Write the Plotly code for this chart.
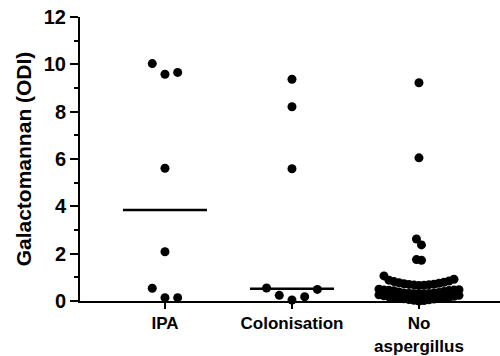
import numpy as np
import plotly.graph_objects as go

# ---------------- data ----------------
categories = ["IPA", "Colonisation", "No aspergillus"]
tick_labels = ["IPA", "Colonisation", "No<br>aspergillus"]

ipa_values = [0.14, 0.14, 0.54, 2.08, 5.61, 9.58, 9.66, 10.03]
colonisation_values = [0.04, 0.18, 0.24, 0.49, 0.55, 5.59, 8.21, 9.37]
no_aspergillus_values = [
    0.00, 0.02, 0.03, 0.05, 0.06, 0.08, 0.09, 0.11, 0.12, 0.14, 0.15, 0.17,
    0.18, 0.20, 0.22, 0.24, 0.26,
    0.28, 0.29, 0.30, 0.31, 0.32, 0.33, 0.34, 0.36, 0.38, 0.40, 0.43, 0.44,
    0.45, 0.46, 0.47, 0.48, 0.50,
    0.66, 0.67, 0.68, 0.69, 0.70, 0.71, 0.73, 0.75, 0.77, 0.79, 0.82, 0.84,
    0.88, 0.92, 1.06,
    1.72, 1.75, 2.37, 2.62, 6.05, 9.22,
]
group_values = [ipa_values, colonisation_values, no_aspergillus_values]

y_tick_values = [0, 2, 4, 6, 8, 10, 12]
y_tick_labels = ["0", "2", "4", "6", "8", "10", "12"]
y_title = "Galactomannan (ODI)"

# ---------------- layout / style ----------------
W, H = 500, 356
ML, MR, MT, MB = 80, 0, 17, 55
X_RANGE = [-0.669, 2.638]
Y_RANGE = [0, 12]
PX_X = (W - ML - MR) / (X_RANGE[1] - X_RANGE[0])
SWARM_STEP_PX = [12.7, 12.7, 5.0]
SWARM_HALF_PX = 40.0
ROW_GAP = 0.45
MEDIAN_HALF_PX = 42.0
FONT = "Arial, Liberation Sans, sans-serif"


def swarm_offsets(values, step_px):
    vals = np.asarray(values, dtype=float)
    order = np.argsort(vals, kind="stable")
    max_per_row = int(2 * SWARM_HALF_PX // step_px) + 1
    rows, cur = [], [order[0]]
    for a, b in zip(order[:-1], order[1:]):
        if vals[b] - vals[a] > ROW_GAP:
            rows.append(cur)
            cur = [b]
        else:
            cur.append(b)
    rows.append(cur)
    chunks = []
    for r in rows:
        for s in range(0, len(r), max_per_row):
            chunks.append(r[s:s + max_per_row])
    off = np.zeros(len(vals))
    for c in chunks:
        n = len(c)
        if n % 2:
            slots = [0] + [s for k in range(1, n) for s in (k, -k)]
        else:
            slots = [s for k in range(n) for s in (k + 0.5, -(k + 0.5))]
        for idx, s in zip(c, slots):
            off[idx] = s * step_px / PX_X
    return off


def bold(t):
    return "<b>" + t.replace("<br>", "</b><br><b>") + "</b>"


fig = go.Figure()
for gi, vals in enumerate(group_values):
    offs = swarm_offsets(vals, SWARM_STEP_PX[gi])
    fig.add_trace(go.Scatter(
        x=gi + offs, y=vals, mode="markers",
        marker=dict(color="black", size=9, line=dict(width=0)),
        cliponaxis=False, showlegend=False, hoverinfo="skip",
    ))
    med = float(np.median(vals))
    half = MEDIAN_HALF_PX / PX_X
    fig.add_trace(go.Scatter(
        x=[gi - half, gi + half], y=[med, med], mode="lines",
        line=dict(color="black", width=2.6),
        cliponaxis=False, showlegend=False, hoverinfo="skip",
    ))

fig.update_layout(
    width=W, height=H,
    margin=dict(l=ML, r=MR, t=MT, b=MB, pad=0),
    paper_bgcolor="white", plot_bgcolor="white",
    font=dict(family=FONT, color="#000000", size=18),
)
fig.update_xaxes(
    range=X_RANGE, tickmode="array", tickvals=list(range(len(categories))),
    ticktext=[bold(t) for t in tick_labels], ticks="outside", ticklen=6, tickwidth=2,
    tickcolor="black", showline=True, linewidth=2, linecolor="black",
    showgrid=False, zeroline=False, automargin=False,
    tickfont=dict(family=FONT, size=17, color="#000000"),
)
fig.update_yaxes(
    range=Y_RANGE, tickmode="array", tickvals=y_tick_values,
    ticktext=[bold(t) for t in y_tick_labels],
    ticks="outside", ticklen=8, tickwidth=2, tickcolor="black",
    showline=True, linewidth=2, linecolor="black",
    showgrid=False, zeroline=False, automargin=False,
    minor=dict(dtick=1, ticks="outside", ticklen=4, tickwidth=2, tickcolor="black", showgrid=False),
    tickfont=dict(family=FONT, size=20, color="#000000"),
    title=dict(text=bold(y_title), font=dict(family=FONT, size=21, color="#000000"), standoff=6),
)

fig.write_html(
    "out.html",
    config={"displayModeBar": False},
    post_script="document.body.style.margin='0';",
)
